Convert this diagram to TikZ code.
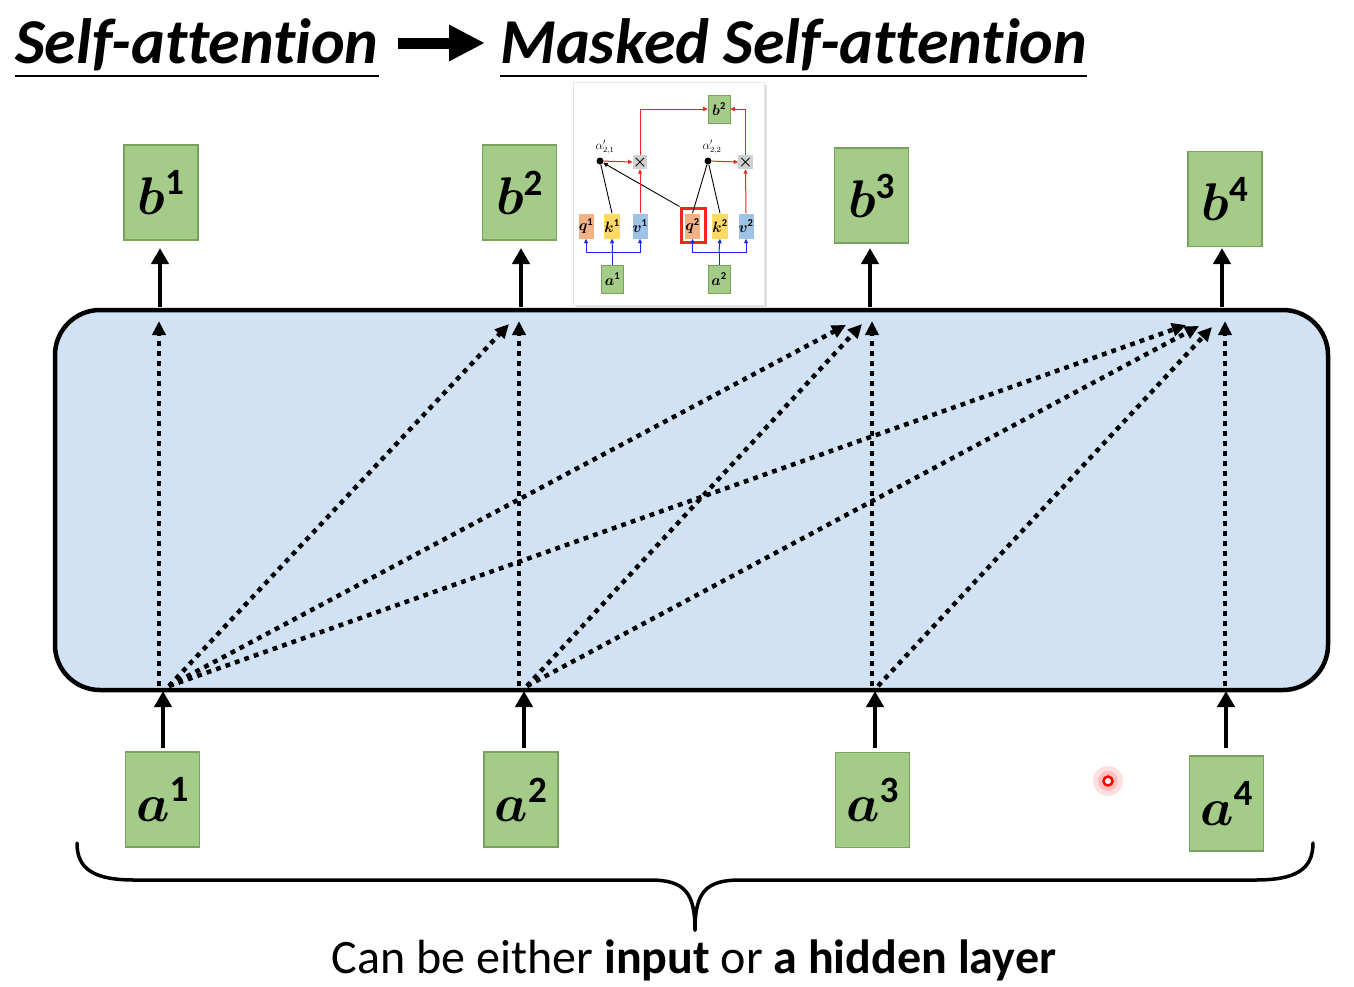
\RequirePackage{fix-cm}
\documentclass[tikz,border=0pt]{standalone}
\usepackage{bm}
\usepackage{fontspec}
\setmainfont{Carlito}[Ligatures=NoCommon]
\usetikzlibrary{arrows.meta}
\definecolor{gfill}{RGB}{164,203,136}
\definecolor{gdraw}{RGB}{118,164,90}
\definecolor{lblue}{RGB}{210,226,245}
\definecolor{qcol}{RGB}{244,177,131}
\definecolor{kcol}{RGB}{255,217,102}
\definecolor{vcol}{RGB}{157,195,230}
\definecolor{xcol}{RGB}{208,208,208}
\definecolor{iblue}{RGB}{20,40,230}
\definecolor{ired}{RGB}{235,40,30}
\tikzset{
  gbox/.style={draw=gdraw, line width=1.2pt, fill=gfill, minimum width=74pt, minimum height=95pt, inner sep=0pt,
    font=\fontsize{53}{58}\selectfont},
  uparrow/.style={line width=4.5pt, -{Triangle[length=16pt,width=17pt]}},
  dotarrow/.style={line width=4.5pt, dash pattern=on 4.8pt off 5.2pt, -{Triangle[length=14pt,width=13pt]}},
  ibox/.style={draw=none, minimum width=15pt, minimum height=25pt, inner sep=0pt, font=\fontsize{15}{17}\selectfont},
  igbox/.style={draw=gdraw, line width=0.6pt, fill=gfill, minimum width=22pt, minimum height=28pt, inner sep=0pt, font=\fontsize{15}{17}\selectfont},
  xbox/.style={fill=xcol, minimum width=14pt, minimum height=14pt, inner sep=0pt, font=\fontsize{16}{16}\selectfont},
  ibl/.style={draw=iblue, line width=1pt},
  ird/.style={draw=ired, line width=1pt},
  itip/.style={-{Triangle[length=4.5pt,width=4pt]}},
  titlef/.style={font=\fontsize{64}{70}\selectfont\bfseries\itshape},
  ul/.style={line width=2pt},
}
\begin{document}
\begin{tikzpicture}[x=1pt,y=-1pt]
\useasboundingbox (0,0) rectangle (1354,986);

% ---- title ----
\node[titlef, anchor=base west, inner sep=0pt] (t1) at (15,63) {Self-attention};
\node[titlef, anchor=base west, inner sep=0pt] (t2) at (500,63) {Masked Self-attention};
\draw[ul] ([yshift=-13pt]t1.base west) -- ([yshift=-13pt]t1.base east);
\draw[ul] ([yshift=-13pt]t2.base west) -- ([yshift=-13pt]t2.base east);
\coordinate (ta) at (398,43);
\coordinate (tb) at (485,43);
\draw[line width=11pt, -{Triangle[length=36pt,width=34pt]}] (ta) -- (tb);

% ---- main layer ----
\node[draw=black, line width=4.5pt, fill=lblue, rounded corners=45pt,
      minimum width=1273pt, minimum height=380pt, inner sep=0pt] (layer) at (691.5,500) {};

% ---- output boxes ----
\node[gbox] (b1) at (161,192.5) {$\bm{b}^{\mathbf{1}}$};
\node[gbox] (b2) at (519.5,192.5) {$\bm{b}^{\mathbf{2}}$};
\node[gbox] (b3) at (871.5,195.5) {$\bm{b}^{\mathbf{3}}$};
\node[gbox] (b4) at (1225,199) {$\bm{b}^{\mathbf{4}}$};

% ---- input boxes ----
\node[gbox] (a1) at (162.5,799.5) {$\bm{a}^{\mathbf{1}}$};
\node[gbox] (a2) at (521,799.5) {$\bm{a}^{\mathbf{2}}$};
\node[gbox] (a3) at (872.5,800) {$\bm{a}^{\mathbf{3}}$};
\node[gbox] (a4) at (1226.5,803.5) {$\bm{a}^{\mathbf{4}}$};

% ---- solid arrows ----
\foreach \n/\x in {a1/163,a2/524,a3/875,a4/1226}{
  \draw[uparrow] (\x,748) -- (\x,691);
}
\foreach \n/\x in {b1/160,b2/521,b3/870,b4/1222}{
  \draw[uparrow] (\x,307) -- (\x,248);
}

% ---- dotted attention arrows ----
\coordinate (s1v) at (159,686);  \coordinate (s1) at (169,686);
\coordinate (s2v) at (519,686);  \coordinate (s2) at (527,686);
\coordinate (s3v) at (872,686);  \coordinate (s3) at (878,686);
\coordinate (s4v) at (1225,686);
\coordinate (e11) at (159,321);
\coordinate (e12) at (509,324); \coordinate (e22) at (519,321);
\coordinate (e13) at (846,325); \coordinate (e23) at (862,324); \coordinate (e33) at (872,321);
\coordinate (e14) at (1186,325); \coordinate (e24) at (1199,326); \coordinate (e34) at (1212,327); \coordinate (e44) at (1225,321);
\draw[dotarrow] (s1v) -- (e11);
\draw[dotarrow] (s1) -- (e12);
\draw[dotarrow] (s1) -- (e13);
\draw[dotarrow] (s1) -- (e14);
\draw[dotarrow] (s2v) -- (e22);
\draw[dotarrow] (s2) -- (e23);
\draw[dotarrow] (s2) -- (e24);
\draw[dotarrow] (s3v) -- (e33);
\draw[dotarrow] (s3) -- (e34);
\draw[dotarrow] (s4v) -- (e44);

% ---- inset ----
\fill[black!12] (576,85) rectangle (767,308);
\node[fill=white, draw=black!10, line width=0.5pt, minimum width=191pt, minimum height=223pt, inner sep=0pt] (inset) at (668.5,193.5) {};
\node[igbox] (ib2) at (719,109) {$\bm{b}^{\mathbf{2}}$};
\node[igbox] (ia1) at (612.5,279) {$\bm{a}^{\mathbf{1}}$};
\node[igbox] (ia2) at (719,279) {$\bm{a}^{\mathbf{2}}$};
\node[ibox, fill=qcol] (q1) at (586,226) {$\bm{q}^{\mathbf{1}}$};
\node[ibox, fill=kcol] (k1) at (612,226) {$\bm{k}^{\mathbf{1}}$};
\node[ibox, fill=vcol] (v1) at (640,226) {$\bm{v}^{\mathbf{1}}$};
\node[ibox, fill=qcol] (q2) at (692.5,226) {$\bm{q}^{\mathbf{2}}$};
\node[ibox, fill=kcol] (k2) at (720,226) {$\bm{k}^{\mathbf{2}}$};
\node[ibox, fill=vcol] (v2) at (746,226) {$\bm{v}^{\mathbf{2}}$};
\node[draw=ired, line width=3pt, minimum width=24pt, minimum height=34pt, inner sep=0pt] (qf) at (693,225) {};
\node[xbox] (x1) at (640,162) {$\bm{\times}$};
\node[xbox] (x2) at (745.5,162) {$\bm{\times}$};
\node[circle, fill=black, minimum size=7pt, inner sep=0pt] (d1) at (600,161) {};
\node[circle, fill=black, minimum size=7pt, inner sep=0pt] (d2) at (708,161) {};
\node[font=\fontsize{12}{13}\selectfont, inner sep=0pt] (l1) at (605,147) {$\alpha'_{2,1}$};
\node[font=\fontsize{12}{13}\selectfont, inner sep=0pt] (l2) at (712,147) {$\alpha'_{2,2}$};
% blue
\coordinate (j1) at (612.5,252);
\coordinate (j2) at (719,252);
\draw[ibl] (ia1.north) -- (j1);
\draw[ibl] (ia2.north) -- (j2);
\draw[ibl, itip] (j1) -| (q1.south);
\draw[ibl, itip] (j1) -- (k1.south);
\draw[ibl, itip] (j1) -| (v1.south);
\draw[ibl, itip] (j2) -| (q2.south);
\draw[ibl, itip] (j2) -- (k2.south);
\draw[ibl, itip] (j2) -| (v2.south);
% black
\draw[line width=0.9pt] (k1.north) -- (d1);
\draw[line width=0.9pt, itip] (qf.north west) -- (d1);
\draw[line width=0.9pt] (d2) -- (q2.north);
\draw[line width=0.9pt] (d2) -- (k2.north);
% red
\draw[ird, itip] (d1) -- (x1.west);
\draw[ird, itip] (v1.north) -- (x1.south);
\draw[ird, itip] (x1.north) |- (ib2.west);
\draw[ird, itip] (d2) -- (x2.west);
\draw[ird, itip] (v2.north) -- (x2.south);
\draw[ird, itip] (x2.north) |- (ib2.east);

% ---- laser dot ----
\fill[red!12] (1108,781) circle (15);
\fill[red!25] (1108,781) circle (10);
\draw[red, line width=2.5pt, fill=white] (1108,781) circle (4.5);

% ---- brace ----
\coordinate (bl) at (77,843);
\coordinate (br) at (1313,843);
\coordinate (bt) at (695,930);
\draw[line width=3.5pt, line cap=round] (bl) .. controls (77,870) and (95,880) .. (135,880) -- (650,880) .. controls (684,880) and (695,892) .. (bt);
\draw[line width=3.5pt, line cap=round] (br) .. controls (1313,870) and (1295,880) .. (1255,880) -- (740,880) .. controls (706,880) and (695,892) .. (bt);
\node[anchor=base, inner sep=0pt, font=\fontsize{48}{54}\selectfont] (cap) at (694,973) {Can be either \textbf{input} or \textbf{a hidden layer}};
\end{tikzpicture}
\end{document}
